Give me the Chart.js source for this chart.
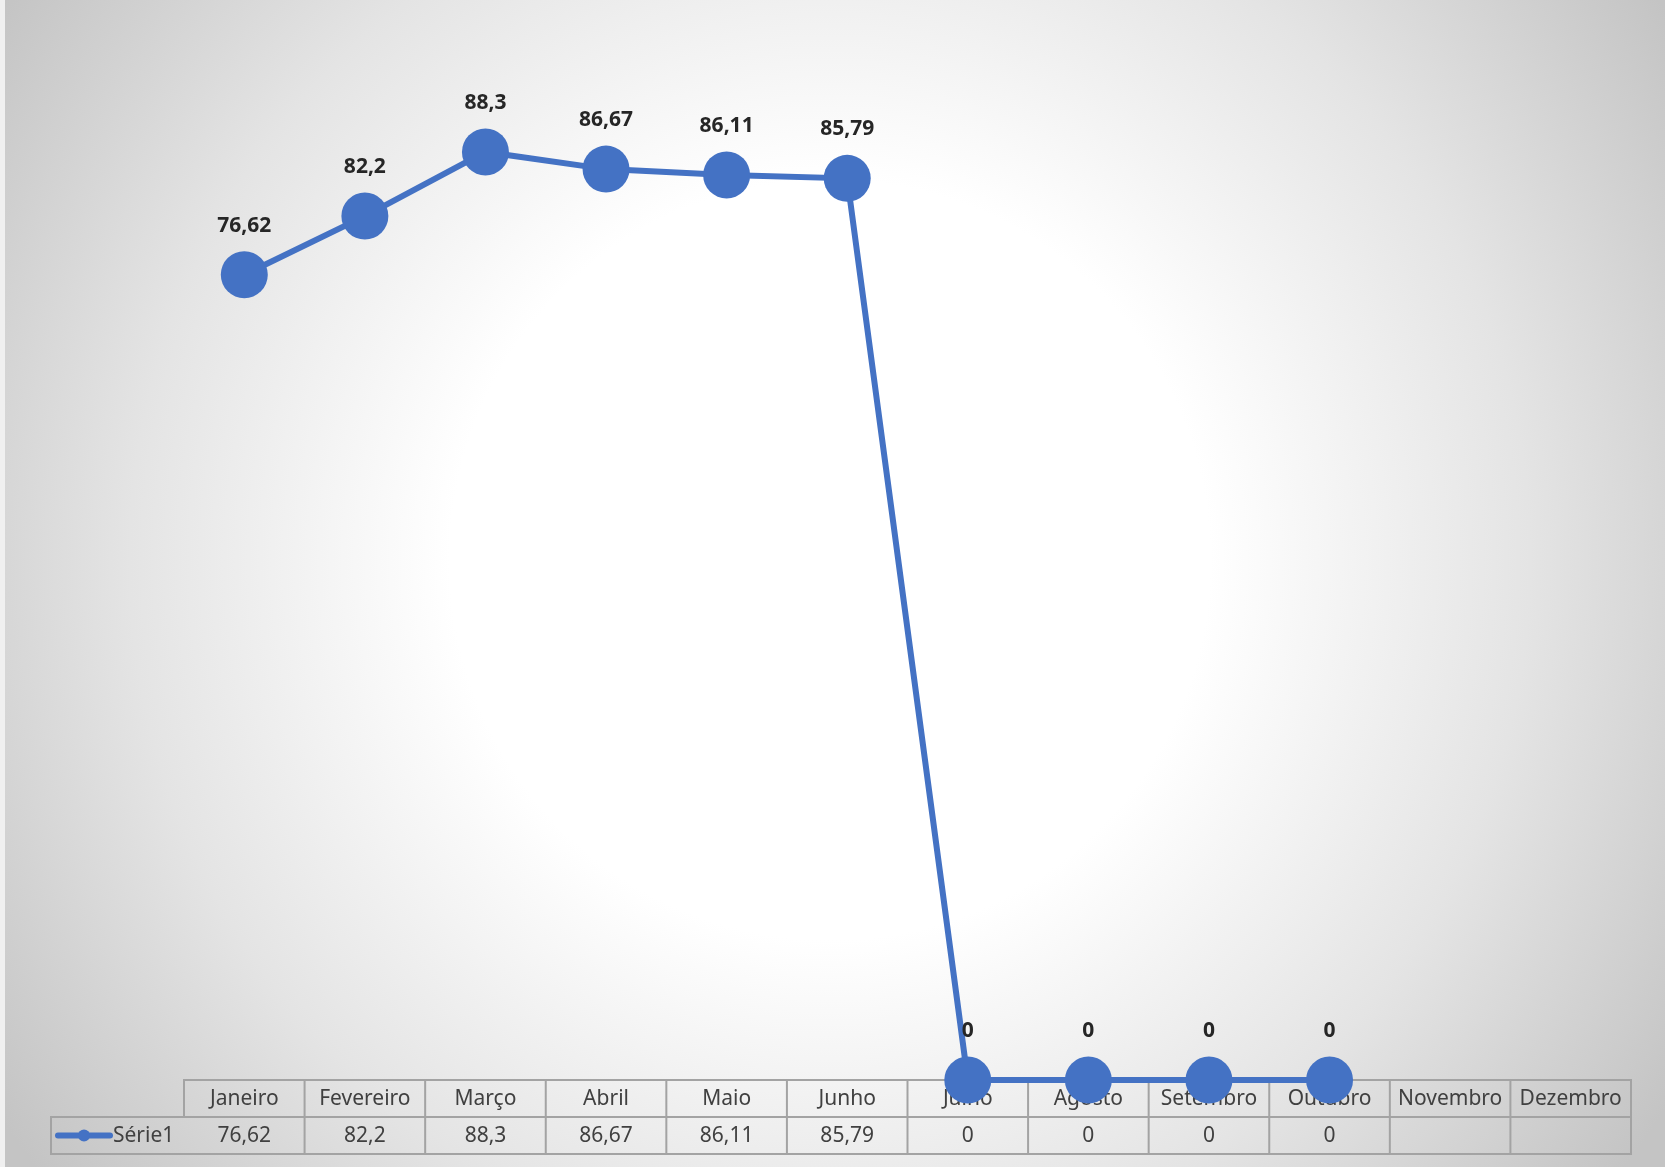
<!DOCTYPE html>
<html>
<head>
<meta charset="utf-8">
<script src="https://cdn.jsdelivr.net/npm/chart.js@4.4.0/dist/chart.umd.min.js"></script>
<style>
html,body{margin:0;padding:0;background:#f2f2f2;}
#wrap{position:absolute;left:0;top:0;width:1665px;height:1167px;}
</style>
</head>
<body>
<div id="wrap"><canvas id="c" width="1665" height="1167"></canvas></div>
<script>
const categories = ["Janeiro","Fevereiro","Março","Abril","Maio","Junho","Julho","Agosto","Setembro","Outubro","Novembro","Dezembro"];
const serie1 = [76.62, 82.2, 88.3, 86.67, 86.11, 85.79, 0, 0, 0, 0, null, null];
const seriesName = "Série1";
const yMin = 0, yMax = 100;

const fmt = v => (v === null || v === undefined) ? "" : String(v).replace(".", ",");
const BLUE = "#4472C4";
const FONT = "'Noto Sans', 'Open Sans', sans-serif";

const bgPlugin = {
  id: "bg",
  beforeDraw(chart) {
    const ctx = chart.ctx;
    ctx.save();
    ctx.fillStyle = "#f0f0f0";
    ctx.fillRect(0, 0, chart.width, chart.height);
    const cx = 830, cy = 560;
    const g = ctx.createRadialGradient(cx, cy, 0, cx, cy, 1000);
    g.addColorStop(0, "#ffffff");
    g.addColorStop(0.38, "#ffffff");
    g.addColorStop(0.7, "#e4e4e4");
    g.addColorStop(1, "#c4c4c4");
    ctx.fillStyle = g;
    ctx.fillRect(5, 0, chart.width - 5, chart.height);
    ctx.restore();
  }
};

const tablePlugin = {
  id: "dataTable",
  beforeDatasetsDraw(chart) {
    const ctx = chart.ctx;
    const xs = chart.scales.x;
    const area = chart.chartArea;
    const top = area.bottom;
    const rowH = 37;
    const n = categories.length;
    const colW = (xs.right - xs.left) / n;
    const left = xs.left, right = xs.right;
    const legLeft = 51;
    ctx.save();
    ctx.strokeStyle = "#a3a3a3";
    ctx.lineWidth = 2;
    ctx.strokeRect(left, top, right - left, rowH);
    ctx.strokeRect(legLeft, top + rowH, right - legLeft, rowH);
    ctx.beginPath();
    for (let i = 1; i < n; i++) {
      const x = left + i * colW;
      ctx.moveTo(x, top);
      ctx.lineTo(x, top + 2 * rowH);
    }
    ctx.stroke();
    ctx.fillStyle = "#404040";
    ctx.font = "21px " + FONT;
    ctx.textAlign = "center";
    ctx.textBaseline = "middle";
    categories.forEach((c, i) => {
      const x = xs.getPixelForValue(i);
      ctx.fillText(c, x, top + rowH / 2 + 1);
      ctx.fillText(fmt(serie1[i]), x, top + rowH * 1.5 + 1);
    });
    const ly = top + rowH * 1.5;
    ctx.strokeStyle = BLUE;
    ctx.lineWidth = 6;
    ctx.lineCap = "round";
    ctx.beginPath();
    ctx.moveTo(58, ly);
    ctx.lineTo(110, ly);
    ctx.stroke();
    ctx.fillStyle = BLUE;
    ctx.beginPath();
    ctx.arc(84, ly, 6, 0, Math.PI * 2);
    ctx.fill();
    ctx.fillStyle = "#404040";
    ctx.textAlign = "left";
    ctx.fillText(seriesName, 113, ly + 1);
    ctx.restore();
  }
};

const labelPlugin = {
  id: "labels",
  afterDatasetsDraw(chart) {
    const ctx = chart.ctx;
    const meta = chart.getDatasetMeta(0);
    ctx.save();
    ctx.fillStyle = "#262626";
    ctx.font = "bold 21px " + FONT;
    ctx.textAlign = "center";
    ctx.textBaseline = "middle";
    meta.data.forEach((pt, i) => {
      const v = serie1[i];
      if (v === null) return;
      ctx.fillText(fmt(v), pt.x, pt.y - 49);
    });
    ctx.restore();
  }
};

new Chart(document.getElementById("c"), {
  type: "line",
  data: {
    labels: categories,
    datasets: [{
      label: seriesName,
      data: serie1,
      borderColor: BLUE,
      backgroundColor: BLUE,
      borderWidth: 6,
      pointRadius: 23.5,
      pointHoverRadius: 23.5,
      pointBackgroundColor: BLUE,
      pointBorderWidth: 0,
      tension: 0,
      spanGaps: false,
      clip: false
    }]
  },
  options: {
    responsive: false,
    animation: false,
    devicePixelRatio: 1,
    layout: { padding: { left: 184, right: 34, top: 29, bottom: 87 } },
    plugins: { legend: { display: false }, tooltip: { enabled: false } },
    scales: {
      x: { type: "category", offset: true, display: false },
      y: { min: yMin, max: yMax, display: false }
    }
  },
  plugins: [bgPlugin, tablePlugin, labelPlugin]
});
</script>
</body>
</html>
